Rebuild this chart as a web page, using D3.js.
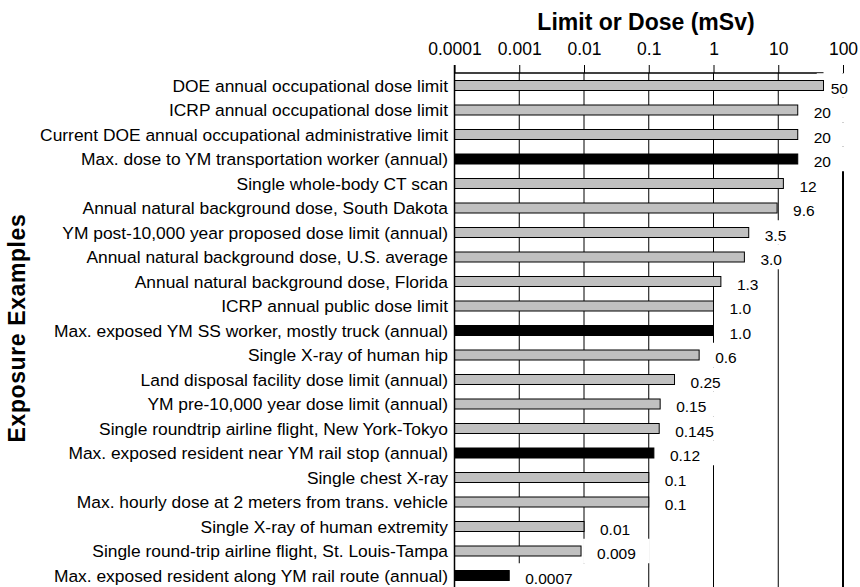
<!DOCTYPE html>
<html>
<head>
<meta charset="utf-8">
<script src="https://cdn.jsdelivr.net/npm/d3@7"></script>
<style>
  body { margin: 0; background: #fff; }
  svg { display: block; font-family: "Liberation Sans", Arial, Helvetica, sans-serif; }
</style>
</head>
<body>
<div id="chart"></div>
<script>
// exposure examples, top to bottom
const examples = [
    "DOE annual occupational dose limit",
    "ICRP annual occupational dose limit",
    "Current DOE annual occupational administrative limit",
    "Max. dose to YM transportation worker (annual)",
    "Single whole-body CT scan",
    "Annual natural background dose, South Dakota",
    "YM post-10,000 year proposed dose limit (annual)",
    "Annual natural background dose, U.S. average",
    "Annual natural background dose, Florida",
    "ICRP annual public dose limit",
    "Max. exposed YM SS worker, mostly truck (annual)",
    "Single X-ray of human hip",
    "Land disposal facility dose limit (annual)",
    "YM pre-10,000 year dose limit (annual)",
    "Single roundtrip airline flight, New York-Tokyo",
    "Max. exposed resident near YM rail stop (annual)",
    "Single chest X-ray",
    "Max. hourly dose at 2 meters from trans. vehicle",
    "Single X-ray of human extremity",
    "Single round-trip airline flight, St. Louis-Tampa",
    "Max. exposed resident along YM rail route (annual)"
];
const doses = [50, 20, 20, 20, 12, 9.6, 3.5, 3.0, 1.3, 1.0, 1.0, 0.6, 0.25, 0.15, 0.145, 0.12, 0.1, 0.1, 0.01, 0.009, 0.0007];
const doseText = ["50", "20", "20", "20", "12", "9.6", "3.5", "3.0", "1.3", "1.0", "1.0", "0.6", "0.25", "0.15", "0.145", "0.12", "0.1", "0.1", "0.01", "0.009", "0.0007"];
// 1 = Yucca Mountain transport estimate (black bar)
const ymRow = [0, 0, 0, 1, 0, 0, 0, 0, 0, 0, 1, 0, 0, 0, 0, 1, 0, 0, 0, 0, 1];
const tickValues = [0.0001, 0.001, 0.01, 0.1, 1, 10, 100];
const tickLabels = ["0.0001", "0.001", "0.01", "0.1", "1", "10", "100"];

const width = 860;
const height = 587;
const axisY = 73;

const x = d3.scaleLog().domain([0.0001, 100]).range([454.5, 843]);
const y = d3.scaleBand().domain(d3.range(examples.length)).range([73.25, 587.75]);
const barH = 10;
const mid = i => y(i) + y.bandwidth() / 2;

const svg = d3.select("#chart").append("svg")
    .attr("width", width)
    .attr("height", height)
    .attr("viewBox", [0, 0, width, height]);

// titles
svg.append("text")
    .attr("x", 646).attr("y", 30)
    .attr("text-anchor", "middle")
    .attr("font-size", 23).attr("font-weight", "bold")
    .text("Limit or Dose (mSv)");

svg.append("text")
    .attr("transform", "translate(25,328) rotate(-90)")
    .attr("text-anchor", "middle")
    .attr("font-size", 23).attr("font-weight", "bold")
    .attr("letter-spacing", 0.6)
    .text("Exposure Examples");

// grid lines, one per decade
svg.append("g")
    .selectAll("line")
    .data(tickValues)
    .join("line")
    .attr("x1", d => x(d)).attr("x2", d => x(d))
    .attr("y1", axisY).attr("y2", height)
    .attr("stroke", "#000")
    .attr("stroke-width", d => d === 100 ? 2 : 1);

// top axis
const xAxis = d3.axisTop(x)
    .tickValues(tickValues)
    .tickFormat((d, i) => tickLabels[i])
    .tickSize(8)
    .tickPadding(10);

svg.append("g")
    .attr("transform", `translate(0,${axisY})`)
    .call(xAxis)
    .call(g => g.select(".domain").remove())
    .call(g => g.selectAll(".tick line").attr("stroke", "#000"))
    .call(g => g.selectAll(".tick text")
        .attr("font-size", 17.5)
        .attr("font-family", "Liberation Sans, Arial, sans-serif")
        .attr("fill", "#000"));

svg.append("line")
    .attr("x1", x(0.0001)).attr("x2", x(d3.max(doses)))
    .attr("y1", axisY).attr("y2", axisY)
    .attr("stroke", "#000").attr("stroke-width", 1.5);

// value labels get a white box that hides the grid behind them
const boxes = svg.append("g");
const bars = svg.append("g");
const vals = svg.append("g")
    .selectAll("text")
    .data(doses)
    .join("text")
    .attr("font-size", 15.5)
    .attr("y", (d, i) => mid(i) + 3)
    .attr("dy", "0.35em")
    .text((d, i) => doseText[i]);

vals.each(function (d, i) {
    const w = this.getComputedTextLength();
    const tx = Math.min(x(d) + 16, width - 12 - w);
    d3.select(this).attr("x", tx);
    boxes.append("rect")
        .attr("x", tx - 14)
        .attr("y", y(i))
        .attr("width", w + 28)
        .attr("height", y.bandwidth())
        .attr("fill", "#fff");
});

// bars
bars.selectAll("rect")
    .data(doses)
    .join("rect")
    .attr("x", x(0.0001))
    .attr("y", (d, i) => mid(i) - barH / 2)
    .attr("width", d => x(d) - x(0.0001))
    .attr("height", barH)
    .attr("fill", (d, i) => ymRow[i] ? "#000" : "#c0c0c0")
    .attr("stroke", "#000")
    .attr("stroke-width", 1);

// left axis line
svg.append("line")
    .attr("x1", x(0.0001)).attr("x2", x(0.0001))
    .attr("y1", axisY - 8).attr("y2", height)
    .attr("stroke", "#000").attr("stroke-width", 1.5);

// row labels
svg.append("g")
    .selectAll("text")
    .data(examples)
    .join("text")
    .attr("x", 448)
    .attr("y", (d, i) => mid(i))
    .attr("dy", "0.35em")
    .attr("text-anchor", "end")
    .attr("font-size", 17.4)
    .text(d => d);
</script>
</body>
</html>
